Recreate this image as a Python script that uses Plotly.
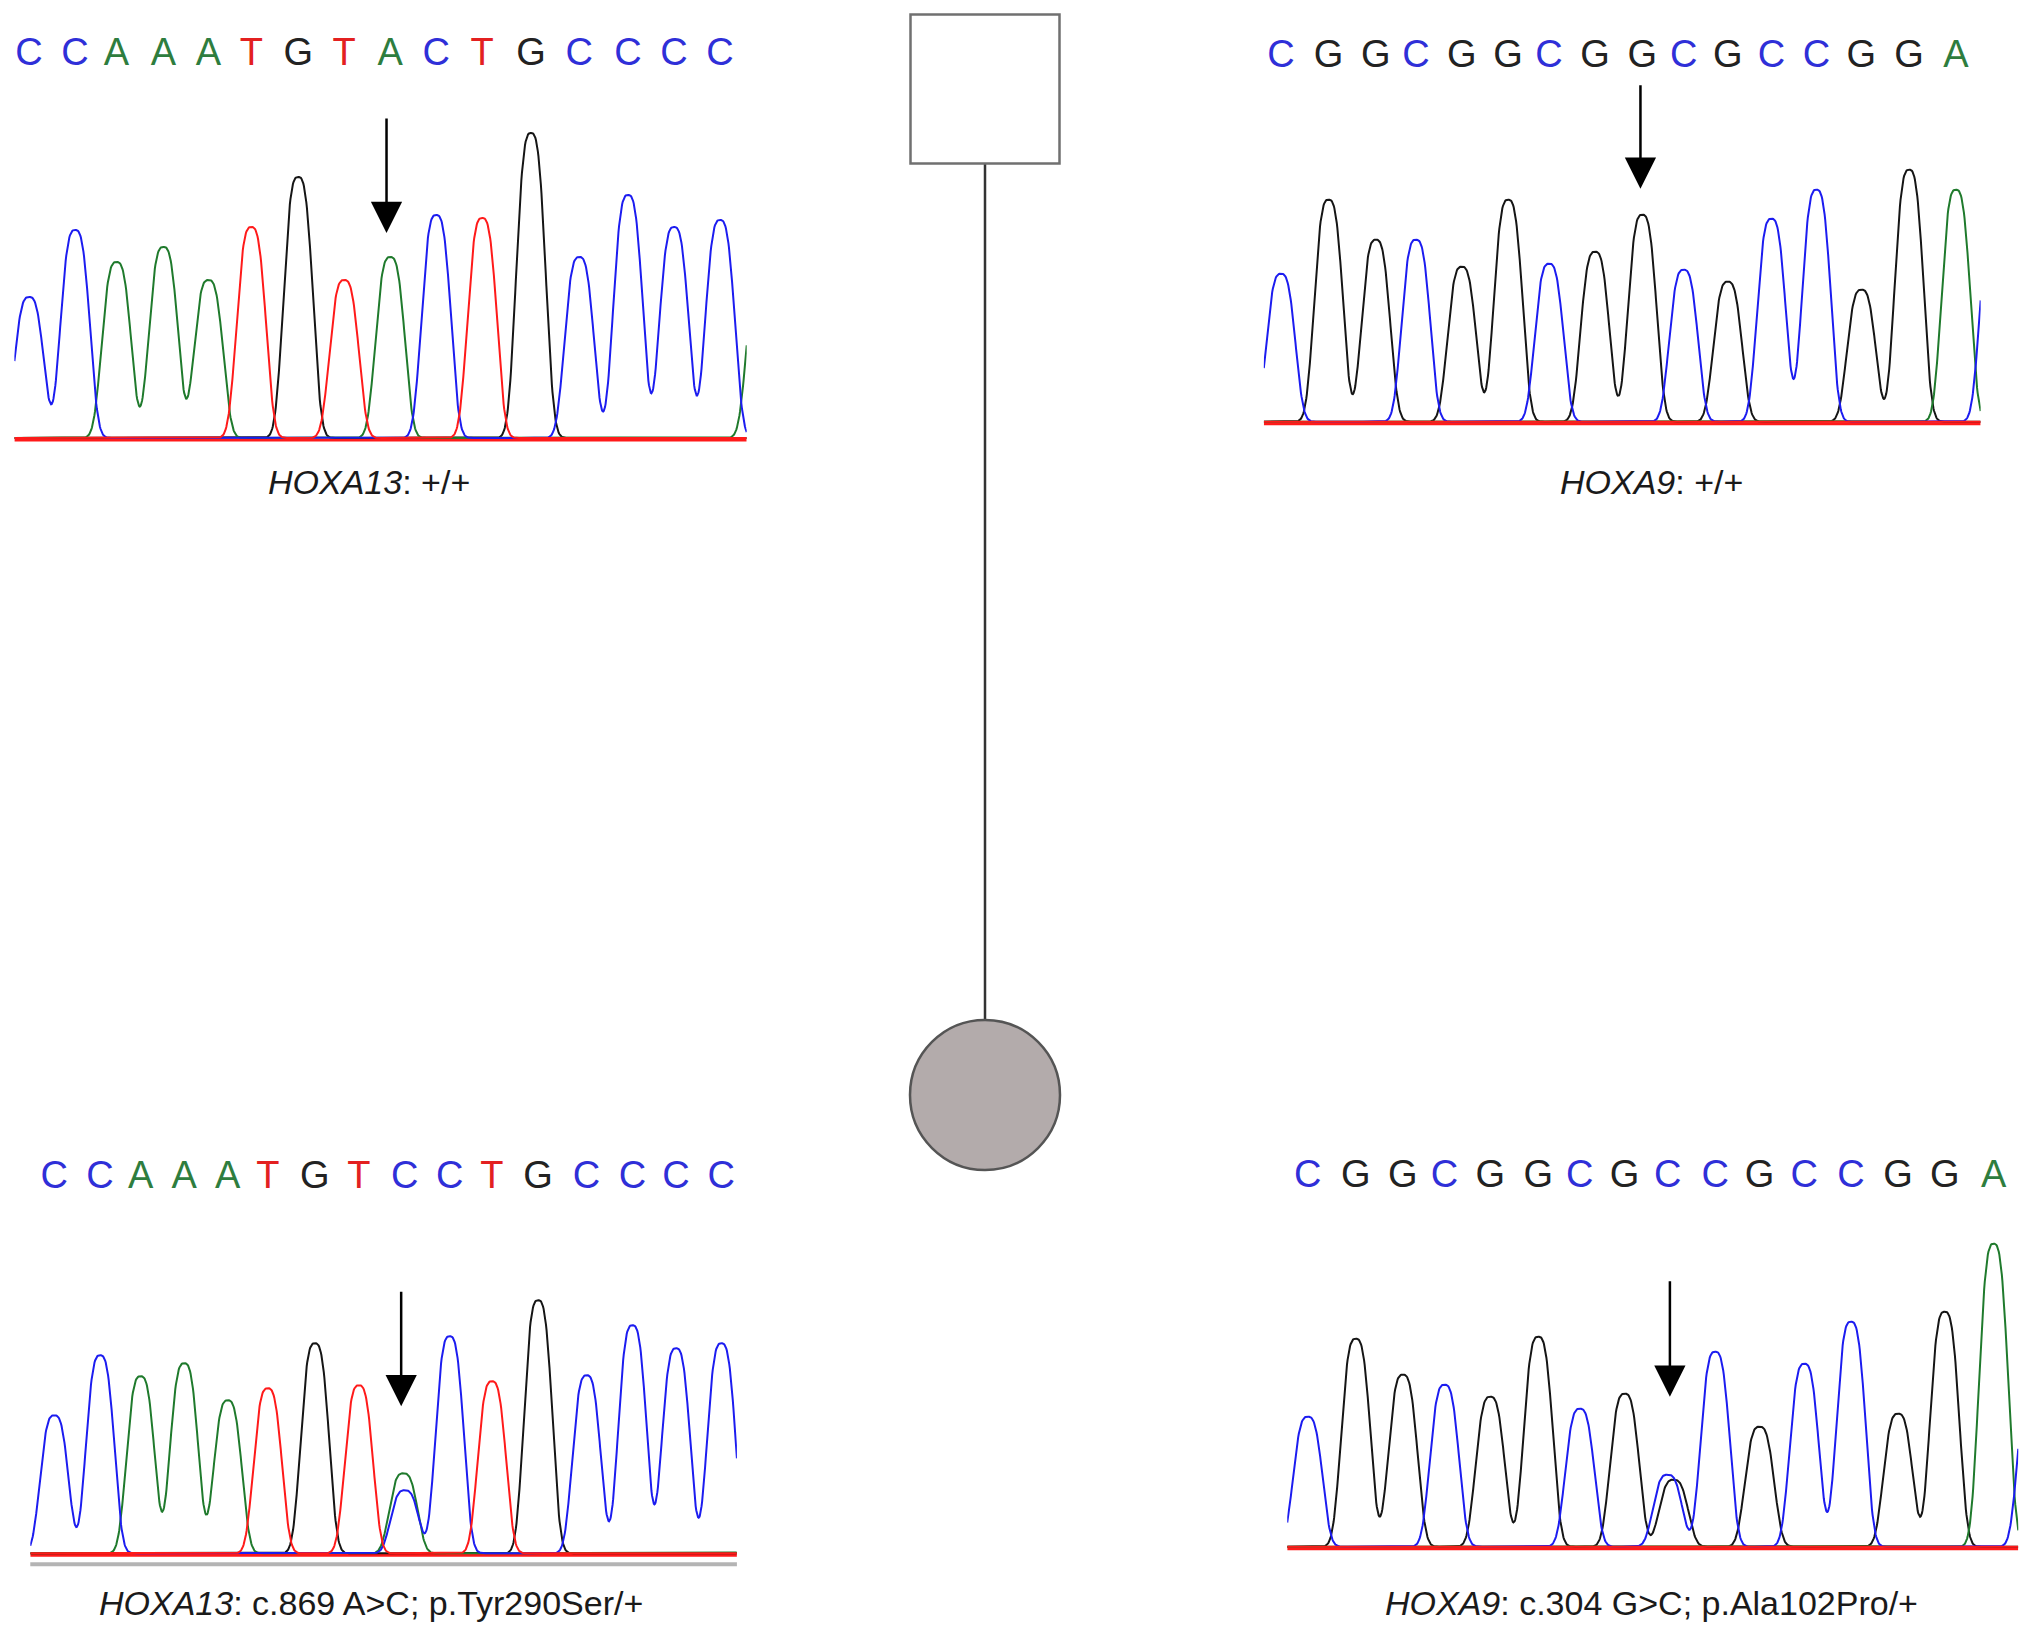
import numpy as np
import plotly.graph_objects as go

# ---- chromatogram data (called base, peak position in base units, peak height) ----
# father, HOXA13
tl_bases = "CCAAATGTACTGCCCC"
tl_pos = [0, 1.0, 1.9, 2.92, 3.9, 4.83, 5.85, 6.85, 7.85, 8.85, 9.85, 10.91, 11.96, 13.02, 14.02, 15.02]
tl_height = [141, 208, 176, 191, 158, 211, 261, 158, 181, 223, 220, 305, 181, 243, 211, 218]
tl_extra = [("A", 15.92, 170)]
tl_arrow = 7.77

# father, HOXA9
tr_bases = "CGGCGGCGGCGCCGGA"
tr_pos = [0, 1.06, 2.11, 3.0, 4.02, 5.05, 5.96, 6.98, 8.03, 8.95, 9.93, 10.9, 11.9, 12.9, 13.96, 15.0]
tr_height = [148, 222, 182, 182, 155, 222, 158, 170, 207, 152, 140, 203, 232, 132, 252, 232]
tr_extra = [("C", 15.85, 200)]
tr_arrow = 7.99

# proband, HOXA13 (heterozygous A>C)
bl_bases = "CCAAATGTCCTGCCCC"
bl_pos = [0, 1.03, 1.94, 2.92, 3.9, 4.8, 5.86, 6.85, 7.88, 8.89, 9.84, 10.88, 11.97, 13.0, 13.98, 15.0]
bl_height = [138, 198, 177, 190, 153, 165, 210, 168, 63, 217, 172, 253, 178, 228, 205, 210]
bl_extra = [("A", 7.85, 80), ("A", 16.0, 150)]
bl_arrow = 7.8

# proband, HOXA9 (heterozygous G>C)
br_bases = "CGGCGGCGCCGCCGGA"
br_pos = [0, 1.05, 2.08, 2.99, 3.99, 5.04, 5.95, 6.93, 7.87, 8.91, 9.88, 10.86, 11.88, 12.91, 13.93, 15.0]
br_height = [130, 208, 172, 162, 150, 210, 138, 153, 72, 195, 120, 183, 225, 133, 235, 303]
br_extra = [("G", 8.0, 67), ("C", 15.85, 170)]
br_arrow = 7.92

labels = [
    "<i>HOXA13</i>: +/+",
    "<i>HOXA9</i>: +/+",
    "<i>HOXA13</i>: c.869 A>C; p.Tyr290Ser/+",
    "<i>HOXA9</i>: c.304 G>C; p.Ala102Pro/+",
]

# pedigree: father (unaffected male) and daughter (affected female)
ped_generation = [1, 2]
ped_sex = ["M", "F"]
ped_affected = [False, True]

# ---- styling ----
W, H = 2032, 1633
PEAK_S, PEAK_P = 0.30, 3.0   # peak shape width / exponent
trace_col = {"A": "#1f7a2c", "C": "#1c1cf0", "G": "#151515", "T": "#ff1a1a"}
text_col = {"A": "#2e7d3e", "C": "#2f2fd8", "G": "#222222", "T": "#e32020"}
FONT = "Liberation Sans, Arial, sans-serif"

panels = [
    dict(bases=tl_bases, pos=tl_pos, h=tl_height, extra=tl_extra, arrow=tl_arrow,
         arrow_tip=205, arrow_top=321, let_y=383, lab_y=-44,
         x0=29.1, dx=46.0, base=438, xr=(-0.32, 15.6), lab_x=7.39),
    dict(bases=tr_bases, pos=tr_pos, h=tr_height, extra=tr_extra, arrow=tr_arrow,
         arrow_tip=233, arrow_top=338, let_y=364, lab_y=-60,
         x0=1280.9, dx=45.0, base=421.7, xr=(-0.38, 15.55), lab_x=8.24),
    dict(bases=bl_bases, pos=bl_pos, h=bl_height, extra=bl_extra, arrow=bl_arrow,
         arrow_tip=147, arrow_top=263, let_y=375, lab_y=-50,
         x0=54.3, dx=44.47, base=1553.3, xr=(-0.54, 15.35), lab_x=7.12),
    dict(bases=br_bases, pos=br_pos, h=br_height, extra=br_extra, arrow=br_arrow,
         arrow_tip=150, arrow_top=267, let_y=369, lab_y=-56,
         x0=1307.8, dx=45.72, base=1546.7, xr=(-0.45, 15.54), lab_x=7.52),
]
YR = (-75, 420)

fig = go.Figure()
annotations = []
shapes = []

for k, pn in enumerate(panels, start=1):
    sfx = "" if k == 1 else str(k)
    xa, ya = "x" + sfx, "y" + sfx
    px_lo = pn["x0"] + pn["xr"][0] * pn["dx"]
    px_hi = pn["x0"] + pn["xr"][1] * pn["dx"]
    fig.layout["xaxis" + sfx] = dict(domain=[px_lo / W, px_hi / W], range=list(pn["xr"]),
                                     visible=False, anchor=ya)
    fig.layout["yaxis" + sfx] = dict(domain=[max(0, 1 - (pn["base"] - YR[0]) / H),
                                             1 - (pn["base"] - YR[1]) / H],
                                     range=[max(YR[0], pn["base"] - H), YR[1]],
                                     visible=False, anchor=xa)

    peaks = list(zip(pn["bases"], pn["pos"], pn["h"])) + pn["extra"]
    xs = np.linspace(pn["xr"][0], pn["xr"][1], 1200)

    # red baseline
    fig.add_trace(go.Scatter(x=[pn["xr"][0], pn["xr"][1]], y=[-2, -2], mode="lines",
                             line=dict(color=trace_col["T"], width=3), xaxis=xa, yaxis=ya,
                             hoverinfo="skip"))
    for ch in ["G", "A", "C", "T"]:
        ys = np.zeros_like(xs)
        for b, p, h in peaks:
            if b == ch:
                ys += h * np.exp(-0.5 * np.abs((xs - p) / PEAK_S) ** PEAK_P)
        fig.add_trace(go.Scatter(x=xs, y=ys, mode="lines",
                                 line=dict(color=trace_col[ch], width=2),
                                 xaxis=xa, yaxis=ya, hoverinfo="skip"))

    # base calls
    fig.add_trace(go.Scatter(x=pn["pos"], y=[pn["let_y"]] * len(pn["pos"]), mode="text",
                             text=list(pn["bases"]),
                             textfont=dict(family=FONT, size=38,
                                           color=[text_col[b] for b in pn["bases"]]),
                             cliponaxis=False, xaxis=xa, yaxis=ya, hoverinfo="skip"))

    # arrow at variant position
    annotations.append(dict(x=pn["arrow"], y=pn["arrow_tip"], ax=pn["arrow"], ay=pn["arrow_top"],
                            xref=xa, yref=ya, axref=xa, ayref=ya, text="", showarrow=True,
                            arrowhead=2, arrowsize=2.5, arrowwidth=2.5, arrowcolor="#000000"))
    annotations.append(dict(x=pn["lab_x"], y=pn["lab_y"], xref=xa, yref=ya, text=labels[k - 1],
                            showarrow=False, font=dict(family=FONT, size=34, color="#1a1a1a")))

# grey rule under proband HOXA13 trace
shapes.append(dict(type="line", xref="x3 domain", x0=0, x1=1, yref="y3", y0=-11, y1=-11,
                   line=dict(color="#b4b4b4", width=4)))

# ---- pedigree ----
fig.layout["xaxis5"] = dict(domain=[885 / W, 1085 / W], range=[-1, 1], visible=False, anchor="y5")
fig.layout["yaxis5"] = dict(domain=[1 - 1095 / H, 1 - 89 / H], range=[2, 1], visible=False, anchor="x5")
fig.add_trace(go.Scatter(x=[0] * len(ped_generation), y=ped_generation, mode="lines",
                         line=dict(color="#333333", width=2.5), xaxis="x5", yaxis="y5",
                         hoverinfo="skip"))
fig.add_trace(go.Scatter(
    x=[0] * len(ped_generation), y=ped_generation, mode="markers",
    marker=dict(symbol=["square" if s == "M" else "circle" for s in ped_sex],
                size=[149, 150], opacity=1,
                color=["#b3abab" if a else "#ffffff" for a in ped_affected],
                line=dict(color=["#707070", "#555555"], width=2.5)),
    cliponaxis=False, xaxis="x5", yaxis="y5", hoverinfo="skip"))

fig.update_layout(width=W, height=H, margin=dict(l=0, r=0, t=0, b=0),
                  paper_bgcolor="white", plot_bgcolor="white", showlegend=False,
                  annotations=annotations, shapes=shapes)
fig.write_html("out.html", config={"displayModeBar": False},
               post_script="document.body.style.margin = '0';")
